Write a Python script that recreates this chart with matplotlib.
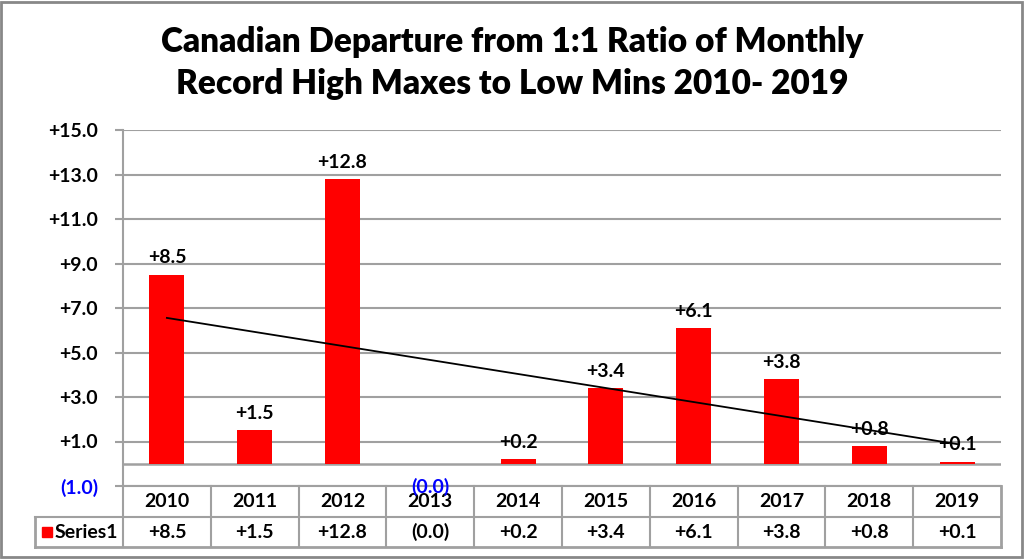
import numpy as np
import matplotlib
matplotlib.use("Agg")
import matplotlib.pyplot as plt
from matplotlib.patches import Rectangle

plt.rcParams['font.family'] = ['Lato', 'DejaVu Sans']
plt.rcParams['font.weight'] = 'bold'

# daten
years = ['2010', '2011', '2012', '2013', '2014', '2015', '2016', '2017', '2018', '2019']
values = [8.5, 1.5, 12.8, -0.01, 0.2, 3.4, 6.1, 3.8, 0.8, 0.1]
yticks = [-1.0, 1.0, 3.0, 5.0, 7.0, 9.0, 11.0, 13.0, 15.0]
series_name = 'Series1'
title = 'Canadian Departure from 1:1 Ratio of Monthly\nRecord High Maxes to Low Mins 2010- 2019'

RED = '#FF0000'
GRID = '#A0A0A0'
BLUE = '#0000FF'
FS = 14


def fmt(v):
    # excel format: +0.0;(0.0)
    if v < 0:
        return '(%.1f)' % abs(v)
    return '+%.1f' % v


W, H = 1024, 559
fig = plt.figure(figsize=(W / 100, H / 100), dpi=100)
ax = fig.add_axes([123 / W, 1 - 486 / H, 878 / W, 356 / H])

x = np.arange(len(years))
ax.bar(x, values, width=0.4, color=RED, zorder=3)

# trendline
k, q = np.polyfit(x, values, 1)
ax.plot([x[0], x[-1]], [q + k * x[0], q + k * x[-1]], color='black', lw=1.3, zorder=4)

# data labels
for xi, v in zip(x, values):
    if v < 0:
        ax.annotate(fmt(v), (xi, v), xytext=(0, -10), textcoords='offset points',
                    ha='center', va='top', fontsize=FS, color=BLUE, zorder=5,
                    annotation_clip=False)
    else:
        ax.annotate(fmt(v), (xi, v), xytext=(0, 6), textcoords='offset points',
                    ha='center', va='bottom', fontsize=FS, color='black', zorder=5)

ax.set_xlim(-0.5, len(years) - 0.5)
ax.set_ylim(-1, 15)
ax.set_yticks(yticks)
ax.set_yticklabels([fmt(t) for t in yticks])
for lab, t in zip(ax.get_yticklabels(), yticks):
    lab.set_color(BLUE if t < 0 else 'black')
ax.tick_params(axis='y', labelsize=FS, length=6, width=1.5, color=GRID, pad=12)
ax.set_xticks([])
ax.yaxis.grid(True, color=GRID, lw=1.5, zorder=0)
ax.axhline(0, color=GRID, lw=1.8, zorder=2)
for s in ['top', 'right', 'bottom']:
    ax.spines[s].set_visible(False)
ax.spines['left'].set_color(GRID)
ax.spines['left'].set_linewidth(1.5)

# data table under the axes
tr = ax.get_xaxis_transform()
r1 = -31 / 356
r2 = -61 / 356
lk = dict(color=GRID, lw=1.5, transform=tr, clip_on=False)
ax.plot([-0.5, 9.5], [0, 0], **lk)
ax.plot([-1.5, 9.5], [r1, r1], **lk)
ax.plot([-1.5, 9.5], [r2, r2], color=GRID, lw=2, transform=tr, clip_on=False)
ax.plot([-1.5, -1.5], [r1, r2], color=GRID, lw=2, transform=tr, clip_on=False)
ax.plot([-0.5, -0.5], [0, r2], **lk)
for b in np.arange(0.5, 9.5, 1.0):
    ax.plot([b, b], [0, r2], **lk)
ax.plot([9.5, 9.5], [0, r2], color=GRID, lw=2, transform=tr, clip_on=False)

for xi, yr, v in zip(x, years, values):
    ax.text(xi, (0 + r1) / 2, yr, transform=tr, ha='center', va='center', fontsize=FS)
    ax.text(xi, (r1 + r2) / 2, fmt(v), transform=tr, ha='center', va='center', fontsize=FS)

ax.add_patch(Rectangle((-1.42, (r1 + r2) / 2 - 0.015), 0.11, 0.03, transform=tr,
                       color=RED, clip_on=False))
ax.text(-1.28, (r1 + r2) / 2, series_name, transform=tr, ha='left', va='center', fontsize=FS)

fig.text(0.5, 1 - 63 / H, title, ha='center', va='center', fontsize=24,
         fontweight='heavy', linespacing=1.4)

# rahmen
fig.patches.append(Rectangle((1 / W, 2 / H), 1 - 3 / W, 1 - 4 / H, transform=fig.transFigure,
                             fill=False, edgecolor='#888888', lw=2))

fig.savefig('out.png', dpi=100)
